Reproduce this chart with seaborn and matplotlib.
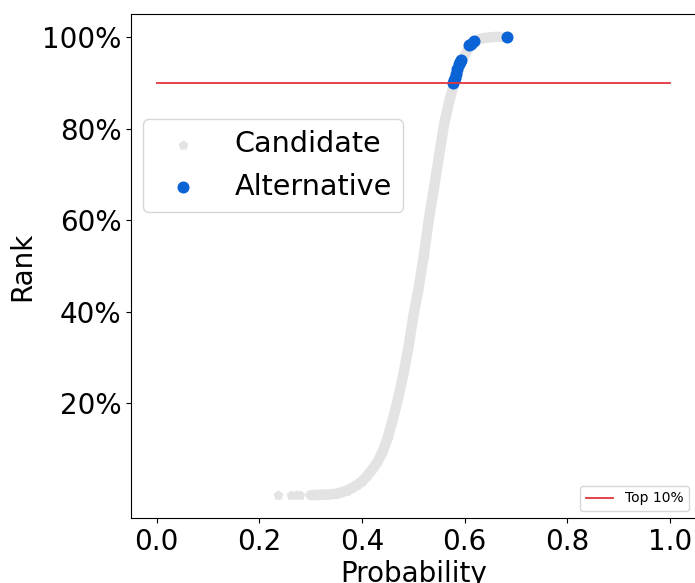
import numpy as np
import pandas as pd
import seaborn as sns
import matplotlib.pyplot as plt
from matplotlib.ticker import PercentFormatter

# candidate curve (probability, rank)
cand_prob = [0.236, 0.262, 0.272, 0.280, 0.300, 0.310, 0.320, 0.330, 0.340,
             0.350, 0.360, 0.370, 0.380, 0.390, 0.400, 0.410, 0.420, 0.430,
             0.440, 0.450, 0.460, 0.470, 0.480, 0.490, 0.500, 0.510, 0.520,
             0.530, 0.540, 0.550, 0.560, 0.570, 0.580, 0.590, 0.600, 0.610,
             0.620, 0.630, 0.640, 0.650, 0.660, 0.670]
cand_rank = [0.000, 0.000, 0.000, 0.000, 0.000, 0.000, 0.001, 0.001, 0.002,
             0.003, 0.006, 0.010, 0.015, 0.022, 0.030, 0.042, 0.056, 0.072,
             0.095, 0.125, 0.165, 0.210, 0.260, 0.320, 0.390, 0.450, 0.520,
             0.600, 0.670, 0.740, 0.810, 0.860, 0.900, 0.935, 0.960, 0.980,
             0.990, 0.996, 0.998, 0.999, 1.000, 1.000]

# alternatives (top 10%)
alt_prob = [0.578, 0.580, 0.582, 0.584, 0.586, 0.588, 0.590, 0.592,
            0.608, 0.612, 0.618, 0.682]
alt_rank = [0.900, 0.905, 0.910, 0.920, 0.930, 0.940, 0.945, 0.950,
            0.983, 0.985, 0.990, 1.000]

threshold = 0.9
line_x = [0.0, 1.0]

cand = pd.DataFrame({"Probability": cand_prob, "Rank": cand_rank})
alt = pd.DataFrame({"Probability": alt_prob, "Rank": alt_rank})

fig = plt.figure(figsize=(6.95, 5.83), dpi=100)
ax = fig.add_axes([0.1885, 0.1115, 0.8125, 0.8645])

# continuous band for the dense candidate points (tail dots stay separate)
band = cand[cand["Probability"] >= 0.30]
ax.plot(band["Probability"], band["Rank"], color="#e3e3e3", lw=7.5,
        solid_capstyle="round", zorder=1)
sns.scatterplot(data=cand, x="Probability", y="Rank", marker="p", s=55,
                color="#e3e3e3", linewidth=0, label="Candidate", ax=ax, zorder=1)
sns.scatterplot(data=alt, x="Probability", y="Rank", marker="o", s=75,
                color="#0a64d6", linewidth=0, label="Alternative", ax=ax, zorder=3)

red, = ax.plot(line_x, [threshold, threshold], color="#e3343c", lw=1.3, zorder=4)

ax.set_xlim(-0.05, 1.05)
ax.set_ylim(-0.05, 1.05)
ax.set_xticks([0.0, 0.2, 0.4, 0.6, 0.8, 1.0])
ax.set_yticks([0.2, 0.4, 0.6, 0.8, 1.0])
ax.yaxis.set_major_formatter(PercentFormatter(1.0, decimals=0))
ax.tick_params(labelsize=20)
ax.set_xlabel("Probability", fontsize=20, labelpad=3)
ax.set_ylabel("Rank", fontsize=20)

leg = ax.legend(loc="upper left", bbox_to_anchor=(0.021, 0.792), fontsize=20.6,
                borderaxespad=0)
ax.add_artist(leg)
ax.legend([red], ["Top 10%"], loc="lower right", fontsize=10)

fig.savefig("out.png", dpi=100)
